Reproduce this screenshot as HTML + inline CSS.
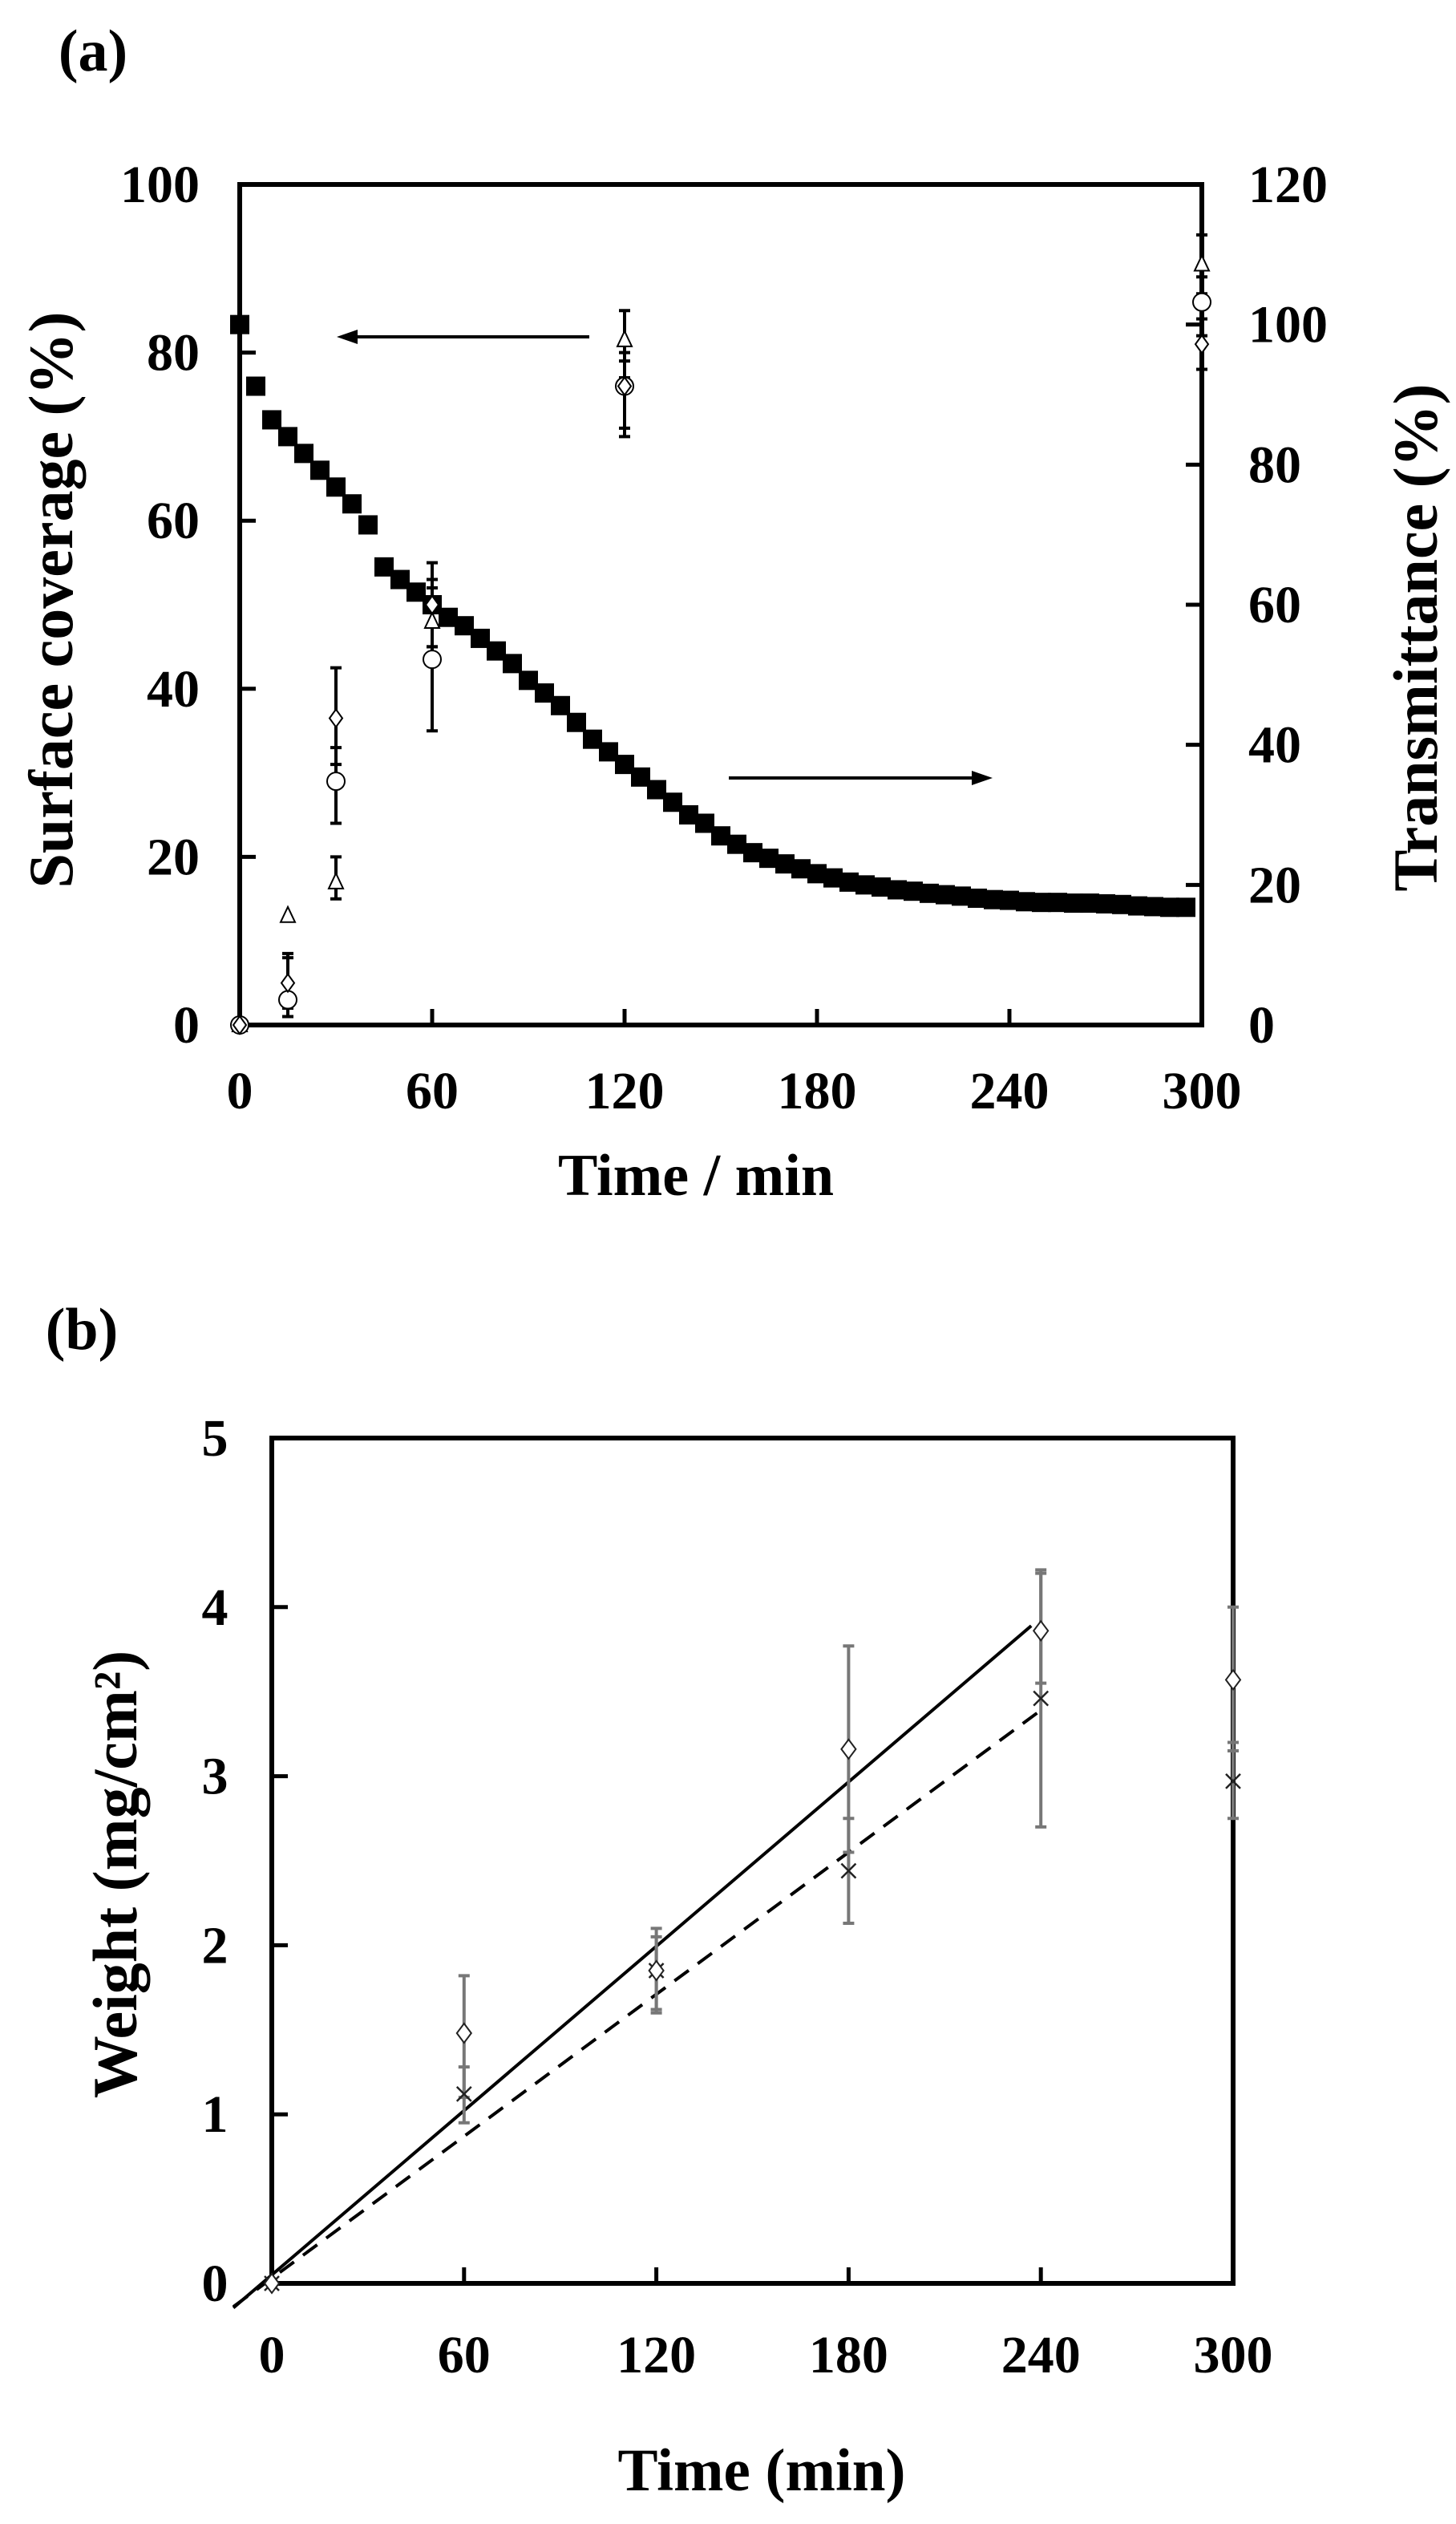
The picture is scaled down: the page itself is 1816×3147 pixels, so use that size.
<!DOCTYPE html>
<html><head><meta charset="utf-8"><style>
html,body{margin:0;padding:0;background:#fff;}
svg{display:block;}
text{font-family:"Liberation Serif",serif;font-weight:bold;fill:#000;}
</style></head>
<body>
<svg id="fig" width="1816" height="3147" viewBox="0 0 1816 3147" xmlns="http://www.w3.org/2000/svg">
<text x="116" y="88" font-size="74" text-anchor="middle">(a)</text>
<text x="102" y="1682" font-size="74" text-anchor="middle">(b)</text>
<g id="pa"></g>
<g id="pb"></g>
</svg>
<script>
// ---- Panel (a) data ----
const aTimes = [0,5,10,15,20,25,30,35,40,45,50,55,60,65,70,75,80,85,90,95,100,105,110,115,120,125,130,135,140,145,150,155,160,165,170,175,180,185,190,195,200,205,210,215,220,225,230,235,240,245,250,255,260,265,270,275,280,285,290,295];
const aTransmittance = [100,91.2,86.4,84,81.6,79.2,76.8,74.4,71.4,65.4,63.6,61.8,60,58.2,57,55.2,53.4,51.6,49.2,47.4,45.6,43.2,40.8,39,37.2,35.4,33.6,31.8,30,28.8,27,25.8,24.6,23.8,23,22.3,21.6,21,20.4,20,19.7,19.3,19.1,18.8,18.6,18.4,18.1,17.9,17.8,17.6,17.5,17.5,17.4,17.4,17.3,17.2,17,16.9,16.8,16.8];
const aCovTimes = [0,15,30,60,120,300];
const aTriangle = [0,13,17,48,81.5,90.5];
const aTriangleLo = [0,13,15,45,77,87];
const aTriangleHi = [0,13,20,53,85,94];
const aCircle = [0,3,29,43.5,76,86];
const aCircleLo = [0,1,24,35,70,82];
const aCircleHi = [0,8,33,52,79,89];
const aDiamond = [0,5,36.5,50,76,81];
const aDiamondLo = [0,2,31,45,71,78];
const aDiamondHi = [0,8.5,42.5,55,80,84];
const aXTicks = [0,60,120,180,240,300];
const aLeftTicks = [0,20,40,60,80,100];
const aRightTicks = [0,20,40,60,80,100,120];
// ---- Panel (b) data ----
const bTimes = [0,60,120,180,240,300];
const bDiamond = [0,1.48,1.85,3.16,3.86,3.57];
const bDiamondLo = [0,1.1,1.62,2.55,3.55,3.15];
const bDiamondHi = [0,1.82,2.1,3.77,4.2,4.0];
const bCross = [0,1.12,1.85,2.44,3.46,2.97];
const bCrossLo = [0,0.95,1.6,2.13,2.7,2.75];
const bCrossHi = [0,1.28,2.05,2.75,4.22,3.2];
const bSolidFit = [-12,237,0.0162,0.05];  // tStart, tEnd, slope, intercept
const bDashFit = [-12,240,0.0140,0.03];
const bXTicks = [0,60,120,180,240,300];
const bYTicks = [0,1,2,3,4,5];

const NS='http://www.w3.org/2000/svg';
function mk(parent,tag,attrs,txt){const e=document.createElementNS(NS,tag);for(const k in attrs)e.setAttribute(k,attrs[k]);if(txt!==undefined)e.textContent=txt;parent.appendChild(e);return e;}

// ===== Panel A =====
const pa=document.getElementById('pa');
const aL=299,aR=1499,aT=230,aB=1278;
const ax=t=>aL+(t/300)*(aR-aL);
const ayL=v=>aB-(v/100)*(aB-aT);
const ayR=v=>aB-(v/120)*(aB-aT);

aLeftTicks.forEach(v=>{
  if(v>0&&v<100){const tk=mk(pa,'line',{x1:aL,x2:aL+20,y1:ayL(v),y2:ayL(v),stroke:'#000','stroke-width':5});
  
  }
  const t=mk(pa,'text',{x:249,y:ayL(v)+22,'font-size':66,'text-anchor':'end'},String(v));
  
  
});
aRightTicks.forEach(v=>{
  if(v>0&&v<120){const tk=mk(pa,'line',{x1:aR,x2:aR-20,y1:ayR(v),y2:ayR(v),stroke:'#000','stroke-width':5});
  
  }
  const t=mk(pa,'text',{x:1557,y:ayR(v)+22,'font-size':66,'text-anchor':'start'},String(v));
  
  
});
aXTicks.forEach(v=>{
  if(v>0&&v<300){const tk=mk(pa,'line',{x1:ax(v),x2:ax(v),y1:aB,y2:aB-20,stroke:'#000','stroke-width':5});
  
  }
  const t=mk(pa,'text',{x:ax(v),y:1382,'font-size':66,'text-anchor':'middle'},String(v));
  
  
});
const aBox=mk(pa,'rect',{x:aL,y:aT,width:aR-aL,height:aB-aT,fill:'none',stroke:'#000','stroke-width':6});



const xt=mk(pa,'text',{x:868,y:1490,'font-size':74,'text-anchor':'middle'},'Time / min');


const ylt=mk(pa,'text',{x:0,y:0,'font-size':78,'text-anchor':'middle',transform:'translate(90,748) rotate(-90)'},'Surface coverage (%)');


const yrt=mk(pa,'text',{x:0,y:0,'font-size':78,'text-anchor':'middle',transform:'translate(1792,795) rotate(-90)'},'Transmittance (%)');



// arrows
function arrow(g,x1,y,x2,name){
  const l=mk(g,'line',{x1:x1,x2:x2+(x2<x1?18:-18),y1:y,y2:y,stroke:'#000','stroke-width':4});
  
  
  const d=x2<x1?1:-1;
  const h=mk(g,'polygon',{points:`${x2},${y} ${x2+d*26},${y-9} ${x2+d*26},${y+9}`,fill:'#000'});
  
  
}
arrow(pa,735,420,420,'left-arrow');
arrow(pa,909,970,1238,'right-arrow');

// transmittance squares
aTimes.forEach((t,i)=>{
  const s=mk(pa,'rect',{x:ax(t)-12,y:ayR(aTransmittance[i])-12,width:24,height:24,fill:'#000'});
  
  
});
function errbar(g,x,y1,y2,color,w,name){
  if(Math.abs(y1-y2)<1)return;
  const e=mk(g,'path',{d:`M${x},${y1}V${y2}M${x-7},${y1}H${x+7}M${x-7},${y2}H${x+7}`,stroke:color,'stroke-width':w,fill:'none'});
  
  
}
aCovTimes.forEach((t,i)=>{
  errbar(pa,ax(t),ayL(aTriangleLo[i]),ayL(aTriangleHi[i]),'#000',4,'triangle-error-bar');
  errbar(pa,ax(t),ayL(aCircleLo[i]),ayL(aCircleHi[i]),'#000',4,'circle-error-bar');
  errbar(pa,ax(t),ayL(aDiamondLo[i]),ayL(aDiamondHi[i]),'#000',4,'diamond-error-bar');
});
aCovTimes.forEach((t,i)=>{
  const x=ax(t);
  let y=ayL(aTriangle[i]);
  const tr=mk(pa,'polygon',{points:`${x},${y-11} ${x-9},${y+8} ${x+9},${y+8}`,fill:'#fff',stroke:'#000','stroke-width':2});
  
  
  y=ayL(aCircle[i]);
  const c=mk(pa,'circle',{cx:x,cy:y,r:11,fill:'#fff',stroke:'#000','stroke-width':2});
  
  
  y=ayL(aDiamond[i]);
  const d=mk(pa,'polygon',{points:`${x},${y-11} ${x+8},${y} ${x},${y+11} ${x-8},${y}`,fill:'#fff',stroke:'#000','stroke-width':2});
  
  
});

// ===== Panel B =====
const pb=document.getElementById('pb');
const bL=339,bR=1538,bT=1793,bB=2847;
const bx=t=>bL+(t/300)*(bR-bL);
const by=v=>bB-(v/5)*(bB-bT);
bYTicks.forEach(v=>{
  if(v>0&&v<5){const tk=mk(pb,'line',{x1:bL,x2:bL+20,y1:by(v),y2:by(v),stroke:'#000','stroke-width':5});
  
  }
  const t=mk(pb,'text',{x:268,y:by(v)+22,'font-size':66,'text-anchor':'middle'},String(v));
  
  
});
bXTicks.forEach(v=>{
  if(v>0&&v<300){const tk=mk(pb,'line',{x1:bx(v),x2:bx(v),y1:bB,y2:bB-20,stroke:'#000','stroke-width':5});
  
  }
  const t=mk(pb,'text',{x:bx(v),y:2958,'font-size':66,'text-anchor':'middle'},String(v));
  
  
});
const bBox=mk(pb,'rect',{x:bL,y:bT,width:bR-bL,height:bB-bT,fill:'none',stroke:'#000','stroke-width':6});


const bxt=mk(pb,'text',{x:950,y:3105,'font-size':75,'text-anchor':'middle'},'Time (min)');


const byt=mk(pb,'text',{x:0,y:0,'font-size':78,'text-anchor':'middle',transform:'translate(170,2337) rotate(-90)'},'Weight (mg/cm²)');



// fit lines
const sl=mk(pb,'line',{x1:bx(bSolidFit[0]),y1:by(bSolidFit[3]+bSolidFit[2]*bSolidFit[0]),x2:bx(bSolidFit[1]),y2:by(bSolidFit[3]+bSolidFit[2]*bSolidFit[1]),stroke:'#000','stroke-width':4});


const dl=mk(pb,'line',{x1:bx(bDashFit[0]),y1:by(bDashFit[3]+bDashFit[2]*bDashFit[0]),x2:bx(bDashFit[1]),y2:by(bDashFit[3]+bDashFit[2]*bDashFit[1]),stroke:'#000','stroke-width':4,'stroke-dasharray':'22 14'});



bTimes.forEach((t,i)=>{
  errbar(pb,bx(t),by(bDiamondLo[i]),by(bDiamondHi[i]),'#777',4,'diamond-error-bar');
  errbar(pb,bx(t),by(bCrossLo[i]),by(bCrossHi[i]),'#777',4,'cross-error-bar');
});
bTimes.forEach((t,i)=>{
  const x=bx(t);
  let y=by(bCross[i]);
  const c=mk(pb,'path',{d:`M${x-9},${y-9}L${x+9},${y+9}M${x+9},${y-9}L${x-9},${y+9}`,stroke:'#222','stroke-width':2.5,fill:'none'});
  
  
  y=by(bDiamond[i]);
  const d=mk(pb,'polygon',{points:`${x},${y-12} ${x+9},${y} ${x},${y+12} ${x-9},${y}`,fill:'#fff',stroke:'#222','stroke-width':2});
  
  
});
</script>
</body></html>
